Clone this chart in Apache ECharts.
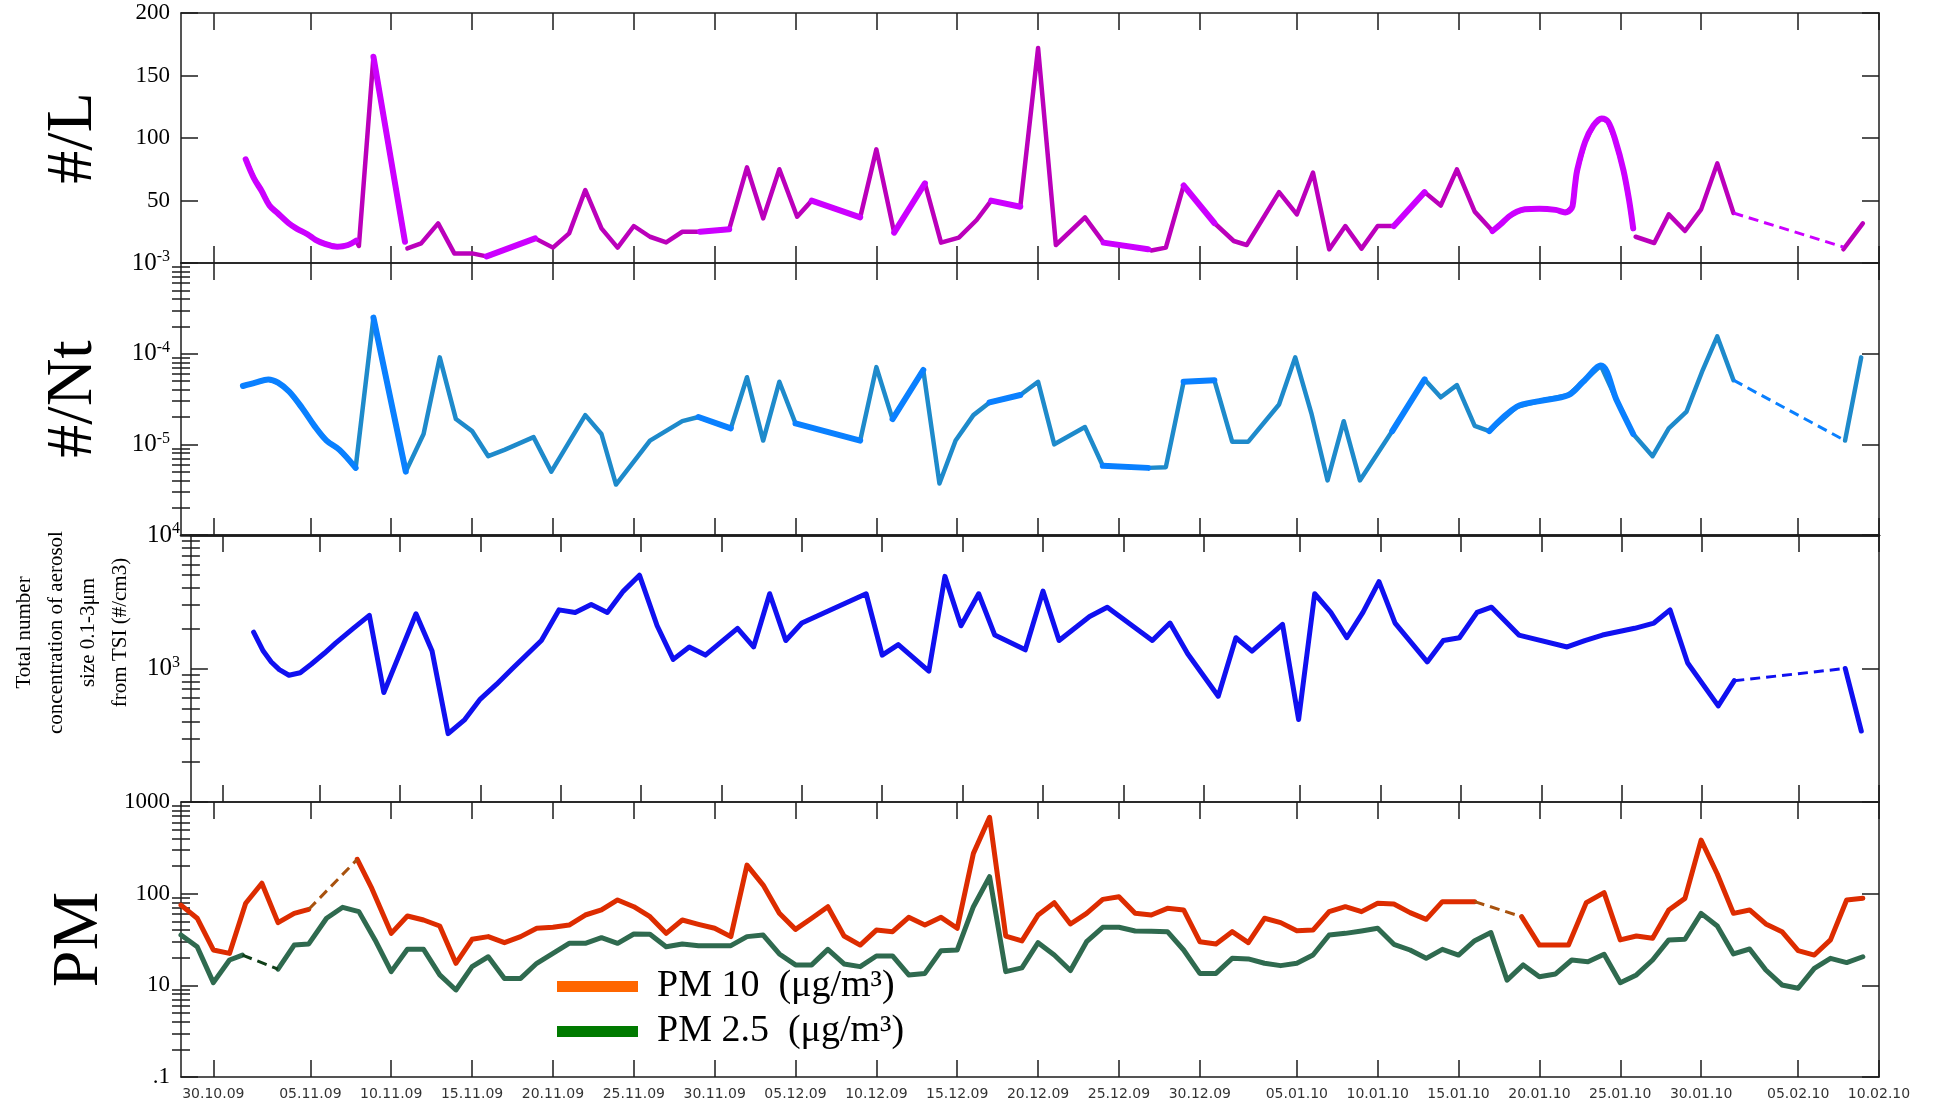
<!DOCTYPE html>
<html><head><meta charset="utf-8">
<script src="https://cdn.jsdelivr.net/npm/echarts@6.0.0/dist/echarts.min.js"></script>
<style>html,body{margin:0;padding:0;background:#fff;}#chart{width:1933px;height:1102px;}</style>
</head><body><div id="chart"></div>
<script>
// ---------- x axis (days since 28.10.09) ----------
const TICK_DAYS = [2,8,13,18,23,28,33,38,43,48,53,58,63,69,74,79,84,89,94,100,105];
const TICK_LABELS = ['30.10.09','05.11.09','10.11.09','15.11.09','20.11.09','25.11.09','30.11.09','05.12.09','10.12.09','15.12.09','20.12.09','25.12.09','30.12.09','05.01.10','10.01.10','15.01.10','20.01.10','25.01.10','30.01.10','05.02.10','10.02.10'];

// ---------- panel 1 : #/L ----------
const P1_DAYS = [
  [4.0,4.5,4.97,5.47,5.97,6.64,7.15,7.82,8.32,8.82,9.66,10.33,10.83,11.0,11.9,13.85],
  [14.0,14.85,15.9,16.9,18.0,18.9,21.9,23,24,25,26,27,28,29,30,31,32.1,33.9,35,36,37,38.1,39,42,43,44.1,46,47,48.1,49.2,50.1,51.9,53,54.1,55.9,57.05,59.8,60,60.9,62,63.9,65.1,65.9,67.9,69,70,71,72,73,74,75,76.9,77.9,78.9,80,81.1,81.6,82.1,82.6,83.1,84,85,85.6,86.0,86.1,86.2,86.35,86.83,87.34,87.85,88.25,88.7,89.2,89.55,89.8],
  [89.95,91.1,92,93,94,95,96],
  [102.8,104]
];
const P1_VALS = [
  [83,68,58,46,40,32,27.5,23,18.5,15.7,13,14.4,17.9,13.6,165,17],
  [11.7,15.7,31.7,7.7,7.7,5.3,19.7,12.3,23.7,58.4,27.7,12.3,29.6,21,16.5,25,25,27,76.5,35.7,75,37,49.9,36.5,90.9,24.3,63.7,16.3,20.3,34.4,49.9,45,172,14.4,36.5,16.3,11,10,12.3,62,32,17.6,14.4,56.7,38.9,72.3,10.9,29.6,11.5,29.6,29.6,56.7,46,74.9,41.1,25.6,31,37,41,43,43.5,42.5,40.5,44,50,62,75,97,110,115.7,113,98,74,50,27.7],
  [21,16,38.9,25.6,42.9,79.7,40],
  [11,31.7]
];
const P1_GAP_DAYS = [96,102.8];
const P1_GAP_VALS = [40,12.8];
const P1_BRIGHT = [[4.0,10.83],[11.9,13.85],[18.9,21.9],[32.1,33.9],[39,42],[44.1,46],[50.1,51.9],[57.05,59.8],[62,63.9],[75,76.9],[81.1,89.8]];

// ---------- panel 2 : #/Nt ----------
const P2_DAYS = [
  [3.83,4.6,5.4,6.0,6.7,7.5,8.25,9,9.8,10.8,11.9,13.9,15,16,17,18,19,20,21.8,22.9,25,26,26.9,29,31,32,34,35,36,37,38,42,43,44,45.9,46.9,47.9,49,50,51.9,53,54,55.9,57,59.8,60.9,62,63.9,65,66,67.9,68.9,69.9,70.9,71.9,72.9,74.9,76.9,77.9,78.9,80,80.9,82.6,84,85.8,86.7,87.8,88.8,89.8,91,92,93.1,94.1,95,96],
  [102.9,103.9]
];
const P2_VALS = [
  [4.4e-5,4.8e-5,5.2e-5,4.8e-5,3.8e-5,2.5e-5,1.6e-5,1.1e-5,8.7e-6,5.5e-6,2.5e-4,5e-6,1.3e-5,9.1e-5,1.9e-5,1.4e-5,7.4e-6,8.7e-6,1.2e-5,5e-6,2.1e-5,1.3e-5,3.6e-6,1.1e-5,1.8e-5,2.0e-5,1.5e-5,5.5e-5,1.1e-5,4.9e-5,1.7e-5,1.1e-5,7.1e-5,1.9e-5,6.6e-5,3.7e-6,1.1e-5,2.1e-5,2.9e-5,3.5e-5,4.9e-5,1.0e-5,1.55e-5,5.8e-6,5.5e-6,5.6e-6,4.9e-5,5.1e-5,1.07e-5,1.07e-5,2.75e-5,9.1e-5,2.2e-5,4e-6,1.8e-5,4e-6,1.4e-5,5.2e-5,3.3e-5,4.5e-5,1.6e-5,1.4e-5,2.6e-5,3e-5,3.5e-5,4.9e-5,7.4e-5,3e-5,1.3e-5,7.4e-6,1.5e-5,2.3e-5,6.6e-5,1.55e-4,5.1e-5],
  [1.1e-5,9.1e-5]
];
const P2_GAP_DAYS = [96,102.9];
const P2_GAP_VALS = [5.1e-5,1.1e-5];
const P2_BRIGHT = [[3.83,10.8],[11.9,13.9],[32,34],[38,42],[44,45.9],[50,51.9],[57,59.8],[62,63.9],[74.9,76.9],[80.9,89.8]];

// ---------- panel 3 : total number concentration ----------
const P3_DAYS = [
  [3.9,4.5,5,5.5,6.1,6.8,7.5,8.3,9,10.1,11.1,12,14,15,16,17,18,19,20,21.8,22.9,23.9,24.9,25.9,26.9,27.9,29,30,31,32,34,35,36,37,38,42,43,44,45.9,46.9,47.9,49,50,51.9,53,54,55.9,57,59.8,60.9,62,63.9,65,66,67.9,68.9,69.9,70.9,71.9,72.9,73.9,74.9,76.9,77.9,78.9,80,80.9,82.6,85.6,86.7,87.8,89.8,91,92,93.1,95,96],
  [102.9,103.9]
];
const P3_VALS = [
  [1870,1350,1120,980,890,930,1080,1300,1550,2000,2500,660,2570,1350,325,410,590,760,1000,1620,2750,2630,3020,2630,3800,5000,2090,1170,1450,1260,2000,1450,3630,1620,2190,3630,1260,1510,955,4900,2090,3630,1780,1380,3800,1620,2450,2880,1620,2190,1290,620,1700,1350,2140,415,3630,2630,1700,2630,4470,2190,1120,1620,1700,2630,2880,1780,1450,1620,1780,2000,2190,2750,1100,525,810],
  [1000,340]
];
const P3_GAP_DAYS = [96,102.9];
const P3_GAP_VALS = [810,1000];

// ---------- panel 4 : PM ----------
const PM10_DAYS = [
  [0,1,2,3,4,5,6,7,7.9],
  [10.9,11.8,13,14,15,16,17,18,19,20,21,22,23,24,25,26,27,28,29,30,31,32,33,34,35,36,37,38,39,40,41,42,43,44,45,46,47,48,49,50,51,52,53,54,55,56,57,58,59,60,61,62,63,64,65,66,67,68,69,70,71,72,73,74,75,76,77,78,79,80],
  [82.9,84,85,85.8,86.9,88,89,90,91,92,93,94,95,96,97,98,99,100,101,102,103,104]
];
const PM10_VALS = [
  [75,54,24.3,22.3,78.5,130,48.3,61,67.5],
  [237,114,36.9,57,51.6,44.4,17.4,31.8,34,29.2,34,41.9,43,45.5,58.5,66.4,85.3,72.1,56.1,36.9,51.6,46.3,41.9,34,205,124,61,40.8,53.9,72.1,34.5,27.5,40.1,38.5,55.2,45.5,55.2,41.9,275,681,34.5,30.5,58.5,79.8,46.7,61,86.7,92.7,61,58.5,69.2,66.4,29.9,28.3,38.5,29.2,53.9,48.3,39.4,40.1,63.7,72.1,63.7,78.5,77.1,62.1,52.5,81.8,81.8,81.8],
  [56.1,27.5,27.5,27.5,79.8,102.6,31.3,34.5,32.6,66.4,88.9,384,164,61,66.4,46.7,38.5,23.9,21.4,31.3,85.3,88.9]
];
const PM10_GAP_DAYS = [[7.9,10.9],[80,82.9]];
const PM10_GAP_VALS = [[67.5,237],[81.8,56.1]];

const PM25_DAYS = [
  [0,1,2,3,3.8],
  [6,7,7.9,9,10,11,12,13,14,15,16,17,18,19,20,21,22,23,24,25,26,27,28,29,30,31,32,33,34,35,36,37,38,39,40,41,42,43,44,45,46,47,48,49,50,51,52,53,54,55,56,57,58,59,60,61,62,63,64,65,66,67,68,69,70,71,72,73,74,75,76,77,78,79,80,81,82,83,84,85,86,87,88,89,90,91,92,93,94,95,96,97,98,99,100,101,102,103,104]
];
const PM25_VALS = [
  [35.4,26.4,10.7,18.9,21.4],
  [15,27.5,28.3,53.9,71,63.7,31.3,14.1,24.7,24.7,13,8.9,16,20.5,11.9,11.9,17.4,22.3,28.7,28.7,33.1,28.7,36.3,36,26.4,28.3,27.1,27.1,27.1,34,35.4,22,16.7,16.7,24.7,17.1,16,20.9,20.9,13,13.5,23.9,24.3,72.1,153,14.1,15.5,29.2,21.4,14.5,29.9,43,43,39.2,38.8,38.5,24.3,13.5,13.5,19.7,19.4,17.4,16.4,17.4,21.4,35.4,36.9,39.2,41.9,28,24.3,19.7,24.7,21.4,30.7,37.6,11.4,16.7,12.4,13.3,18.9,18.1,21.8,10.7,13,18.9,31.3,31.8,61,44.4,22,24.9,14.7,10.1,9.3,15.3,19.7,17.7,20.5]
];
const PM25_GAP_DAYS = [[3.8,6]];
const PM25_GAP_VALS = [[21.4,15]];

const PM10_NAME = 'PM 10  (μg/m³)';
const PM25_NAME = 'PM 2.5  (μg/m³)';

// ---------- helpers ----------
function segData(daySegs, valSegs) {
  const out = [];
  daySegs.forEach((ds, k) => {
    if (k) out.push([ds[0], '-']);
    ds.forEach((d, i) => out.push([d, valSegs[k][i]]));
  });
  return out;
}
function rangeData(daySegs, valSegs, ranges) {
  const out = [];
  ranges.forEach((r, k) => {
    if (k) out.push([r[0], '-']);
    daySegs.forEach((ds, s) => ds.forEach((d, i) => {
      if (d >= r[0] - 1e-6 && d <= r[1] + 1e-6) out.push([d, valSegs[s][i]]);
    }));
  });
  return out;
}

const FRAME = '#1c1c1c';
const SERIF = 'Liberation Serif';
const GRIDS = [
  {left:181, right:54, top:13, height:250},
  {left:181, right:54, top:263, height:272},
  {left:181, right:54, top:535, height:267},
  {left:181, right:54, top:802, height:275}
];
const supFmt = hideExp => v => {
  const e = Math.round(Math.log10(v));
  return e === hideExp ? '' : '{b|10}{s|' + e + '}';
};
const YCFG = [
  {type:'value', min:0, max:200, interval:50, fmt: v => v === 0 ? '' : String(v),
   name:'#/L', nameGap:74, nameSize:66},
  {type:'log', min:1e-6, max:1e-3, fmt: supFmt(-6), name:'#/Nt', nameGap:74, nameSize:66},
  {type:'log', min:100, max:10000, fmt: supFmt(2),
   name:'Total number\nconcentration of aerosol\nsize 0.1-3μm\nfrom TSI (#/cm3)', nameGap:44, nameSize:21, nameLH:32, namePad:[0,0,0,72]},
  {type:'log', min:1, max:1000, fmt: v => { const r = Math.round(v); return r === 1 ? '.1' : String(r); },
   name:'PM', nameGap:67, nameSize:66}
];

const xAxes = [], yAxes = [], mainY = [];
GRIDS.forEach((g, gi) => {
  ['bottom','top'].forEach(pos => {
    const thick = (gi === 1 && pos === 'bottom') || (gi === 2 && pos === 'top');
    xAxes.push({
      type:'value', gridIndex:gi, position:pos, min:0, max:105,
      axisLine:{show:true, onZero:false, lineStyle:{color:FRAME, width: thick ? 2.5 : 1.5}},
      axisTick:{show:true, inside:true, length:17, customValues:TICK_DAYS, lineStyle:{color:FRAME, width:1.5}},
      axisLabel:{show: gi === 3 && pos === 'bottom', customValues:TICK_DAYS, margin:10,
        fontFamily:'DejaVu Sans', fontSize:14, color:'#333',
        formatter: v => TICK_LABELS[TICK_DAYS.indexOf(Math.round(v))] || ''},
      splitLine:{show:false}
    });
  });
  const c = YCFG[gi];
  ['left','right'].forEach(pos => {
    const ax = {
      type:c.type, gridIndex:gi, position:pos, min:c.min, max:c.max,
      axisLine:{show:true, onZero:false, lineStyle:{color:FRAME, width:1.5}},
      axisTick:{show:true, inside:true, length:17, lineStyle:{color:FRAME, width:1.5}},
      axisLabel:{show:false},
      splitLine:{show:false}
    };
    if (c.interval) ax.interval = c.interval;
    if (pos === 'left') {
      ax.axisLabel = {show:true, margin:11, fontFamily:SERIF, fontSize:23, color:'#000', formatter:c.fmt,
        showMinLabel:true, showMaxLabel:true,
        rich:{b:{fontFamily:SERIF, fontSize:25, color:'#000', lineHeight:28},
              s:{fontFamily:SERIF, fontSize:16, color:'#000', verticalAlign:'top', lineHeight:16}}};
      ax.name = c.name; ax.nameLocation = 'middle'; ax.nameRotate = 90; ax.nameGap = c.nameGap;
      ax.nameTextStyle = {fontFamily:SERIF, fontSize:c.nameSize, color:'#000', lineHeight:c.nameLH || c.nameSize, padding:c.namePad || 0};
      mainY.push(yAxes.length);
    }
    yAxes.push(ax);
  });
  if (c.type === 'log') {
    const lo = Math.round(Math.log10(c.min)), hi = Math.round(Math.log10(c.max));
    const minor = [];
    for (let e = lo; e < hi; e++) for (let m = 2; m <= 9; m++) minor.push(e + Math.log10(m));
    ['left','right'].forEach(pos => {
      yAxes.push({
        type:'value', gridIndex:gi, position:pos, min:lo, max:hi,
        axisLine:{show:false}, axisLabel:{show:false}, splitLine:{show:false},
        axisTick:{show:true, inside:true, length:9, customValues:minor, lineStyle:{color:FRAME, width:1.5}}
      });
    });
  }
});

function line(name, gi, data, color, width, extra) {
  return Object.assign({
    type:'line', name, xAxisIndex:gi * 2, yAxisIndex:mainY[gi], data,
    symbol:'none', showSymbol:false, connectNulls:false, animation:false, silent:true,
    lineStyle:{color, width, cap:'round', join:'round'}, itemStyle:{color}
  }, extra || {});
}
function dashed(name, gi, data, color) {
  return line(name, gi, data, color, 3, {lineStyle:{color, width:3, type:[10,6], cap:'butt'}});
}

const series = [
  line('p1', 0, segData(P1_DAYS, P1_VALS), '#BB00BB', 4.5),
  line('p1b', 0, rangeData(P1_DAYS, P1_VALS, P1_BRIGHT), '#CC00FF', 6, {smooth:0.35}),
  dashed('p1gap', 0, segData([P1_GAP_DAYS], [P1_GAP_VALS]), '#CC00FF'),
  line('p2', 1, segData(P2_DAYS, P2_VALS), '#1E8ACB', 4.5),
  line('p2b', 1, rangeData(P2_DAYS, P2_VALS, P2_BRIGHT), '#0A80FF', 6, {smooth:0.35}),
  dashed('p2gap', 1, segData([P2_GAP_DAYS], [P2_GAP_VALS]), '#0A80FF'),
  line('p3', 2, segData(P3_DAYS, P3_VALS), '#1010F0', 5),
  dashed('p3gap', 2, segData([P3_GAP_DAYS], [P3_GAP_VALS]), '#1010F0'),
  line(PM25_NAME, 3, segData(PM25_DAYS, PM25_VALS), '#2F6A4F', 5),
  dashed('pm25gap', 3, segData(PM25_GAP_DAYS, PM25_GAP_VALS), '#0F3F18'),
  line(PM10_NAME, 3, segData(PM10_DAYS, PM10_VALS), '#DD2C00', 5),
  dashed('pm10gap', 3, segData(PM10_GAP_DAYS, PM10_GAP_VALS), '#A8520E')
];

const chart = echarts.init(document.getElementById('chart'), null, {renderer:'canvas'});
chart.setOption({
  animation:false,
  backgroundColor:'#fff',
  textStyle:{fontFamily:SERIF},
  grid:GRIDS,
  xAxis:xAxes,
  yAxis:yAxes,
  legend:{
    orient:'vertical', left:557, top:966, padding:0, itemGap:4,
    itemWidth:81, itemHeight:11, icon:'rect', selectedMode:false,
    textStyle:{fontFamily:SERIF, fontSize:38, color:'#000', lineHeight:41, padding:[0,0,0,14]},
    data:[
      {name:PM10_NAME, itemStyle:{color:'#FF6600', borderWidth:0}},
      {name:PM25_NAME, itemStyle:{color:'#007A00', borderWidth:0}}
    ]
  },
  series
});
</script></body></html>
